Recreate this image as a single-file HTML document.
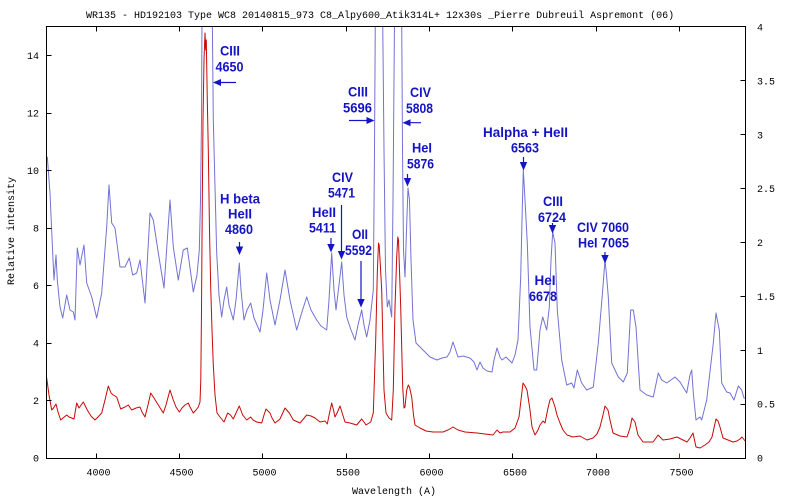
<!DOCTYPE html>
<html>
<head>
<meta charset="utf-8">
<style>
html,body{margin:0;padding:0;background:#fff;}
svg{display:block;}
.mono{font-family:"Liberation Mono",monospace;font-size:10px;fill:#000;}
.ann{font-family:"Liberation Sans",sans-serif;font-size:14px;font-weight:bold;fill:#1414c4;text-anchor:middle;}
</style>
</head>
<body>
<svg width="800" height="500" viewBox="0 0 800 500" xmlns="http://www.w3.org/2000/svg">
<rect x="0" y="0" width="800" height="500" fill="#fff"/>
<defs>
<clipPath id="pa"><rect x="46.5" y="27" width="699" height="431.5"/></clipPath>
</defs>

<text class="mono" x="86" y="18">WR135 - HD192103  Type WC8  20140815_973  C8_Alpy600_Atik314L+  12x30s  _Pierre Dubreuil Aspremont (06)</text>

<g clip-path="url(#pa)" fill="none" stroke-width="1" stroke-linejoin="round">
<polyline stroke="#7272d4" points="
47.3,156.7 50,193 52.7,253 54,280 56,255 57.3,280 60,307 62.7,318 66.7,295 70,310 73.3,312 75,320 77.3,248 80,265 84,245 86.7,283 91.7,297 96.7,318 101.7,293 106.7,227 109,185 111.7,223 115,228 120,267 125,267 129.3,258 132.7,275 136.7,273 140,260 145,303 150,213 153.3,220 158.3,253 164,288 170,200 173.3,247 178.3,280 183.3,250 187.3,248 193.3,292 197,275 199.3,250 200.5,200 201.5,120 202,20 212.3,20 213.3,120 215,187 216.7,253 219,295 221.7,317 224,300 226.7,287 229,305 233.3,320 236,300 239.3,263 241,290 244,320 247,310 250.7,303 254,318 260,332 263,310 266.7,273 270,300 275,325 280,300 285,270 290,300 296.7,330 301,315 306.7,297 311,310 316.7,320 321,326 326.7,330 329,300 331.7,253 334,290 336,310 339,285 341.7,262 344,295 346.7,317 351,330 355,340 358,325 361.7,310 364,325 366.7,337 370,320 373.3,290 374.5,150 375.3,20 382.7,20 384,150 385.5,270 387.3,307 389,300 391.7,317 393,200 394.5,20 401.7,20 402.5,150 403.5,250 405,277 406.5,230 408,188 409.5,200 411,260 413,320 416,343 420,347 425,352 430,357 437,360 442,358 447,357 450,352 453,342 455,348 458,357 463,356 470,358 474,362 477,370 480,362 483,368 487,371 492,372 494,360 497,348 500,357 502,360 506,357 509,360 512,363 515,355 518,340 520.7,277 522,220 523.3,170 525,200 527.3,243 530,327 534,370 536.7,370 540,330 542.7,317 546.7,330 549.3,307 551,260 552.7,232 555,243 557.3,310 561.7,360 566.7,385 571.7,383 574,388 577.3,370 581.7,383 586.7,390 593.3,387 598.3,343 602.7,290 605,260 606.5,275 608.3,297 611.7,363 618.3,377 623.3,382 627.3,373 630.7,310 633.3,310 636,327 640,390 646.7,395 653.3,397 658.3,373 661.7,380 666.7,383 671,380 675,377 680,382 686.7,393 690,375 691.7,370 693.3,393 696,420 700,417 701.7,420 706.7,400 713.3,343 716,313 719.3,330 721.7,383 726.7,392 730,393 734,400 738.3,386 741.7,390 744,398 746,398"/>
<polyline stroke="#c80808" points="
46.7,378 49,395 51.7,410 53.5,408 56,404 58,412 60.7,420 63,418 66.7,415 69,417 71.7,418 74,419 76.7,403 79,408 83.3,402 87.3,410 91,416 95,420 98,417 101.7,413 105,400 108.3,386 111,393 113.3,395 116.7,397 120.7,409 125,407 128.3,405 131.7,410 136,408 140,407 142,412 145,417 148,405 150.7,393 154,398 158.3,405 163.3,413 166,405 170,390 173.3,400 176,407 179.3,412 182,408 185,405 188.3,403 190,407 193.3,413 196,410 198.3,407 200,402 200.8,380 201.5,310 202.3,200 203,120 204,60 205,33 205.7,50 206.3,40 207.3,100 208.3,150 209.5,230 210.7,287 212,330 213.3,365 215,395 217,413 220,417 224,422 227.7,413 230.5,415 233.3,419 236,413 239.3,406 242.7,415 246.7,420 250.7,417 253,420 256.7,422 261.7,423 264,415 266,409 270,413 272,418 275,423 280,419 285,408 289.3,413 293.3,420 300,423 306.7,415 311,416 315,418 320,422 325,421 327.3,424 329.5,413 331.7,403 333.5,410 335,417 337.5,412 340,406 342.5,414 345,422 350,423 356.7,425 361.7,419 364,422 366,425 370.7,422 373.3,413 375.7,340 377.3,273 378.5,243 379.2,245 381.7,290 384,390 386,413 389,418 391.7,420 393.3,390 395,307 396.7,257 397.8,237 398.5,240 400.7,307 402.7,387 404,408 405,407 406.7,390 408.3,385 409.5,387 411.7,397 413.5,415 415,425 420,428 426,431 433,432 443,432 448,430 453,427 458,430 465,432 477,433 485,434 493,435 497,430 500,433 503,432 510,432 515,428 519,417 521,400 523,383 525,386 527,390 530,410 532,427 535,435 538,430 540,425 543,421 545,423 548,408 550,400 552,398 555,407 557,415 560,423 563,430 567,435 573,437 580,436 587,440 593,438 597,434 600,427 603,415 605,406 608,410 610,420 613,433 620,436 627,437 630,428 632,418 635,422 638,435 643,442 653,442 656,438 658,435 663,440 670,439 677,437 683,440 687,442 690,438 693,433 696,447 700,448 705,445 709,442 712,437 714,428 716,419 718,421 720,427 723,438 728,440 733,442 737,441 740,439 742,437 746,442"/>
</g>

<g stroke="#000" stroke-width="1" fill="none" shape-rendering="crispEdges">
<rect x="46.5" y="26.5" width="699" height="432"/>
<path d="M46.5 458.5H51.5M46.5 400.5H51.5M46.5 343.5H51.5M46.5 285.5H51.5M46.5 228.5H51.5M46.5 170.5H51.5M46.5 113.5H51.5M46.5 55.5H51.5"/>
<path d="M740.5 80.5H745.5M740.5 134.5H745.5M740.5 188.5H745.5M740.5 242.5H745.5M740.5 296.5H745.5M740.5 350.5H745.5M740.5 404.5H745.5"/>
<path d="M96.5 26.5V31.5M179.5 26.5V31.5M262.5 26.5V31.5M346.5 26.5V31.5M429.5 26.5V31.5M512.5 26.5V31.5M596.5 26.5V31.5M679.5 26.5V31.5"/>
<path d="M96.5 458.5V453.5M179.5 458.5V453.5M262.5 458.5V453.5M346.5 458.5V453.5M429.5 458.5V453.5M512.5 458.5V453.5M596.5 458.5V453.5"/>
</g>
<path d="M679.5 458.5V453.5" stroke="#c80808" stroke-width="1" shape-rendering="crispEdges"/>

<g class="mono" text-anchor="end">
<text x="39" y="461.5">0</text>
<text x="39" y="404">2</text>
<text x="39" y="346.6">4</text>
<text x="39" y="289.1">6</text>
<text x="39" y="231.6">8</text>
<text x="39" y="174.2">10</text>
<text x="39" y="116.7">12</text>
<text x="39" y="59.2">14</text>
</g>
<g class="mono">
<text x="757" y="461.5">0</text>
<text x="757" y="407.5">0.5</text>
<text x="757" y="353.8">1</text>
<text x="757" y="299.9">1.5</text>
<text x="757" y="246">2</text>
<text x="757" y="192.1">2.5</text>
<text x="757" y="138.3">3</text>
<text x="757" y="84.4">3.5</text>
<text x="757" y="30.5">4</text>
</g>
<g class="mono" text-anchor="middle">
<text x="98.5" y="475.5">4000</text>
<text x="181.5" y="475.5">4500</text>
<text x="264.5" y="475.5">5000</text>
<text x="348" y="475.5">5500</text>
<text x="431.5" y="475.5">6000</text>
<text x="515" y="475.5">6500</text>
<text x="598" y="475.5">7000</text>
<text x="681.5" y="475.5">7500</text>
<text x="394" y="494">Wavelength (A)</text>
<text transform="translate(14,231) rotate(-90)">Relative intensity</text>
</g>

<g class="ann">
<text x="230" y="55.5" textLength="20" lengthAdjust="spacingAndGlyphs">CIII</text><text x="229.5" y="71.5" textLength="28" lengthAdjust="spacingAndGlyphs">4650</text>
<text x="358" y="96.5" textLength="20" lengthAdjust="spacingAndGlyphs">CIII</text><text x="357.5" y="112.5" textLength="29" lengthAdjust="spacingAndGlyphs">5696</text>
<text x="420.5" y="97" textLength="21" lengthAdjust="spacingAndGlyphs">CIV</text><text x="419.5" y="113" textLength="27" lengthAdjust="spacingAndGlyphs">5808</text>
<text x="422" y="152.5" textLength="20" lengthAdjust="spacingAndGlyphs">HeI</text><text x="420.5" y="168.5" textLength="27" lengthAdjust="spacingAndGlyphs">5876</text>
<text x="342.5" y="182" textLength="21" lengthAdjust="spacingAndGlyphs">CIV</text><text x="341.5" y="197.5" textLength="27" lengthAdjust="spacingAndGlyphs">5471</text>
<text x="324" y="217" textLength="24" lengthAdjust="spacingAndGlyphs">HeII</text><text x="322.5" y="232.5" textLength="27" lengthAdjust="spacingAndGlyphs">5411</text>
<text x="360" y="239" textLength="16" lengthAdjust="spacingAndGlyphs">OII</text><text x="358.5" y="255" textLength="27" lengthAdjust="spacingAndGlyphs">5592</text>
<text x="240" y="203.5" textLength="40" lengthAdjust="spacingAndGlyphs">H beta</text><text x="240" y="218.5" textLength="24" lengthAdjust="spacingAndGlyphs">HeII</text><text x="239" y="234" textLength="28" lengthAdjust="spacingAndGlyphs">4860</text>
<text x="525.5" y="137" textLength="85" lengthAdjust="spacingAndGlyphs">Halpha + HeII</text><text x="525" y="152.5" textLength="28" lengthAdjust="spacingAndGlyphs">6563</text>
<text x="553" y="206" textLength="20" lengthAdjust="spacingAndGlyphs">CIII</text><text x="552" y="222" textLength="28" lengthAdjust="spacingAndGlyphs">6724</text>
<text x="603" y="232" textLength="52" lengthAdjust="spacingAndGlyphs">CIV 7060</text><text x="603.5" y="247.5" textLength="51" lengthAdjust="spacingAndGlyphs">HeI 7065</text>
<text x="545" y="285" textLength="21" lengthAdjust="spacingAndGlyphs">HeI</text><text x="543" y="301" textLength="28" lengthAdjust="spacingAndGlyphs">6678</text>
</g>

<g stroke="#1414c4" stroke-width="1.2" fill="none">
<path d="M214 82.5H236"/>
<path d="M349 120.5H372"/>
<path d="M404 122.7H421"/>
<path d="M407.5 174V182"/>
<path d="M341.5 205V254"/>
<path d="M331 238V247"/>
<path d="M361 261V302"/>
<path d="M239.5 242V250"/>
<path d="M523.5 157V165"/>
<path d="M552.5 223V228"/>
<path d="M605 252V258"/>
</g>
<g fill="#1414c4" stroke="none">
<polygon points="213,82.5 221,79 221,86"/>
<polygon points="374.5,120.5 366.5,117 366.5,124"/>
<polygon points="402.5,122.7 410.5,119.2 410.5,126.2"/>
<polygon points="403.8,178 411.2,178 407.5,186.5"/>
<polygon points="337.8,251 345.2,251 341.5,259.5"/>
<polygon points="327.3,244 334.7,244 331,252.5"/>
<polygon points="357.3,299 364.7,299 361,307.5"/>
<polygon points="235.8,246.5 243.2,246.5 239.5,255"/>
<polygon points="519.8,162 527.2,162 523.5,170.5"/>
<polygon points="548.8,225 556.2,225 552.5,233.5"/>
<polygon points="601.3,255 608.7,255 605,263.5"/>
</g>
</svg>
</body>
</html>
